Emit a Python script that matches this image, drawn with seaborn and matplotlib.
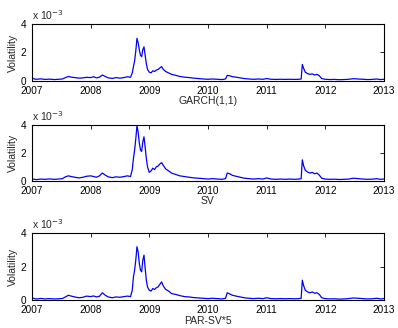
import numpy as np
import pandas as pd
import matplotlib
matplotlib.use('Agg')
import matplotlib.pyplot as plt
import seaborn as sns

# time axis in fractional years
t = [2007.00, 2007.04, 2007.08, 2007.15, 2007.22, 2007.30, 2007.38, 2007.45, 2007.52,
     2007.57, 2007.62, 2007.67, 2007.73, 2007.80, 2007.87, 2007.93, 2008.00, 2008.05,
     2008.10, 2008.15, 2008.20, 2008.25, 2008.30, 2008.37, 2008.43, 2008.50, 2008.57,
     2008.63, 2008.68, 2008.71, 2008.73, 2008.75, 2008.77, 2008.79, 2008.81, 2008.83,
     2008.85, 2008.87, 2008.89, 2008.91, 2008.93, 2008.95, 2008.97, 2009.00, 2009.03,
     2009.06, 2009.09, 2009.12, 2009.15, 2009.18, 2009.21, 2009.24, 2009.28, 2009.33,
     2009.38, 2009.45, 2009.52, 2009.60, 2009.68, 2009.76, 2009.84, 2009.92, 2010.00,
     2010.08, 2010.16, 2010.24, 2010.30, 2010.33, 2010.37, 2010.42, 2010.48, 2010.55,
     2010.62, 2010.70, 2010.78, 2010.86, 2010.94, 2011.00, 2011.08, 2011.16, 2011.24,
     2011.32, 2011.40, 2011.48, 2011.55, 2011.59, 2011.61, 2011.63, 2011.66, 2011.70,
     2011.74, 2011.78, 2011.82, 2011.86, 2011.90, 2011.94, 2012.00, 2012.08, 2012.16,
     2012.24, 2012.32, 2012.40, 2012.48, 2012.56, 2012.64, 2012.72, 2012.80, 2012.88,
     2012.94, 2013.00]

# volatility, units of 1e-3
garch = [0.20, 0.12, 0.10, 0.13, 0.09, 0.11, 0.08, 0.10, 0.12,
         0.22, 0.30, 0.25, 0.22, 0.18, 0.20, 0.24, 0.22, 0.28,
         0.20, 0.25, 0.40, 0.30, 0.20, 0.16, 0.22, 0.18, 0.22,
         0.28, 0.24, 0.55, 1.00, 1.40, 2.10, 3.00, 2.70, 2.20,
         1.80, 1.70, 2.20, 2.40, 1.80, 1.20, 0.80, 0.60, 0.55,
         0.70, 0.65, 0.75, 0.80, 0.90, 1.00, 0.80, 0.65, 0.55,
         0.45, 0.38, 0.30, 0.25, 0.22, 0.18, 0.15, 0.12, 0.10,
         0.12, 0.10, 0.08, 0.12, 0.38, 0.35, 0.28, 0.25, 0.20,
         0.15, 0.12, 0.10, 0.12, 0.10, 0.15, 0.10, 0.09, 0.10,
         0.09, 0.10, 0.09, 0.10, 0.12, 1.15, 0.90, 0.60, 0.50,
         0.45, 0.48, 0.40, 0.45, 0.35, 0.15, 0.10, 0.08, 0.09,
         0.07, 0.08, 0.10, 0.14, 0.12, 0.10, 0.08, 0.09, 0.12,
         0.08, 0.10]

sv = [0.15, 0.10, 0.08, 0.12, 0.10, 0.13, 0.10, 0.12, 0.15,
      0.28, 0.35, 0.30, 0.25, 0.20, 0.25, 0.32, 0.35, 0.30,
      0.25, 0.35, 0.55, 0.40, 0.28, 0.22, 0.28, 0.25, 0.30,
      0.35, 0.30, 0.80, 1.60, 2.20, 3.00, 3.95, 3.50, 2.70,
      2.20, 2.10, 2.80, 3.15, 2.40, 1.60, 1.00, 0.60, 0.70,
      0.90, 0.80, 1.00, 1.05, 1.20, 1.30, 1.10, 0.85, 0.70,
      0.55, 0.45, 0.35, 0.30, 0.25, 0.20, 0.18, 0.15, 0.12,
      0.15, 0.12, 0.10, 0.15, 0.55, 0.50, 0.38, 0.32, 0.25,
      0.18, 0.15, 0.12, 0.15, 0.12, 0.20, 0.12, 0.10, 0.12,
      0.10, 0.12, 0.10, 0.12, 0.15, 1.50, 1.10, 0.75, 0.62,
      0.55, 0.60, 0.50, 0.55, 0.40, 0.18, 0.12, 0.10, 0.11,
      0.09, 0.10, 0.12, 0.18, 0.15, 0.12, 0.10, 0.11, 0.15,
      0.10, 0.12]

parsv = [0.15, 0.10, 0.08, 0.11, 0.08, 0.10, 0.08, 0.09, 0.11,
         0.20, 0.30, 0.25, 0.20, 0.15, 0.18, 0.25, 0.22, 0.26,
         0.20, 0.24, 0.45, 0.30, 0.20, 0.15, 0.20, 0.18, 0.22,
         0.25, 0.22, 0.60, 1.40, 1.80, 2.40, 3.20, 2.90, 2.20,
         1.80, 1.70, 2.40, 2.70, 1.90, 1.20, 0.80, 0.60, 0.55,
         0.70, 0.65, 0.75, 0.80, 0.95, 1.10, 0.85, 0.65, 0.55,
         0.40, 0.35, 0.28, 0.22, 0.20, 0.16, 0.14, 0.12, 0.10,
         0.12, 0.10, 0.08, 0.12, 0.45, 0.38, 0.30, 0.25, 0.20,
         0.15, 0.12, 0.10, 0.12, 0.10, 0.15, 0.10, 0.09, 0.10,
         0.09, 0.10, 0.09, 0.10, 0.12, 1.20, 0.90, 0.60, 0.50,
         0.45, 0.50, 0.42, 0.45, 0.35, 0.15, 0.10, 0.08, 0.09,
         0.07, 0.08, 0.10, 0.14, 0.12, 0.10, 0.08, 0.09, 0.12,
         0.08, 0.10]

names = ['GARCH(1,1)', 'SV', 'PAR-SV*5']
years = [2007, 2008, 2009, 2010, 2011, 2012, 2013]

sns.set_style('white')
plt.rcParams['font.family'] = ['Liberation Sans', 'DejaVu Sans']
plt.rcParams['font.size'] = 7.5

fig = plt.figure(figsize=(3.98, 3.28), dpi=100)
pos = [[0.0804, 0.754, 0.884, 0.172],
       [0.0804, 0.449, 0.884, 0.170],
       [0.0804, 0.0845, 0.884, 0.204]]

for p, vals, nm in zip(pos, [garch, sv, parsv], names):
    ax = fig.add_axes(p)
    df = pd.DataFrame({'t': t, 'v': vals})
    sns.lineplot(data=df, x='t', y='v', ax=ax, color=(0, 0, 1), linewidth=0.9)
    ax.set_xlim(2007, 2013)
    ax.set_ylim(0, 4)
    ax.set_xticks(years)
    ax.set_xticklabels([str(y) for y in years])
    ax.set_yticks([0, 2, 4])
    ax.tick_params(direction='in', length=3, width=0.6, top=True, right=True,
                   labelsize=7.2, colors='black')
    ax.tick_params(axis='x', pad=3.6)
    ax.tick_params(axis='y', pad=4)
    for sp in ax.spines.values():
        sp.set_linewidth(0.8)
        sp.set_color('black')
    ax.set_xlabel(nm, fontsize=7.5, labelpad=0.5)
    ax.set_ylabel('Volatility', fontsize=7.5, labelpad=2)
    ax.text(0.0, 1.04, r'x 10$^{-3}$', transform=ax.transAxes, fontsize=7.5,
            ha='left', va='bottom')

fig.savefig('out.png', dpi=100)
